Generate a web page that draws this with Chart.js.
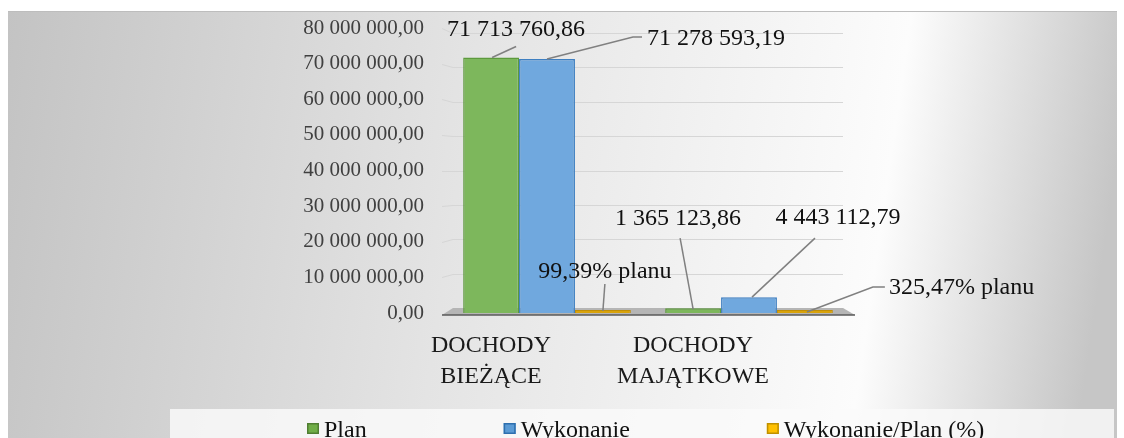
<!DOCTYPE html>
<html><head><meta charset="utf-8">
<script src="https://cdn.jsdelivr.net/npm/chart.js@4.4.1/dist/chart.umd.min.js"></script>
<style>html,body{margin:0;padding:0;background:#fff;overflow:hidden}#wrap{width:1124px;height:438px;position:relative}</style>
</head><body><div id="wrap"><canvas id="c" width="1124" height="438"></canvas></div>
<script>
const categories = [['DOCHODY', 'BIEŻĄCE'], ['DOCHODY', 'MAJĄTKOWE']];
const seriesNames = ['Plan', 'Wykonanie', 'Wykonanie/Plan (%)'];
const planValues = [71713760.86, 1365123.86];
const wykonanieValues = [71278593.19, 4443112.79];
const percentValues = [99.39, 325.47];
const yTickValues = [0, 10000000, 20000000, 30000000, 40000000, 50000000, 60000000, 70000000, 80000000];

const SERIF = '"Liberation Serif", "Times New Roman", serif';

function fmtNum(v) {
  const parts = v.toFixed(2).split('.');
  return parts[0].replace(/\B(?=(\d{3})+(?!\d))/g, ' ') + ',' + parts[1];
}
function fmtPct(v) { return v.toFixed(2).replace('.', ',') + '% planu'; }

// label callout layout (offsets relative to each bar's top centre): style only
const calloutStyle = [
  [ {pts: [[1,0],[25,-11]], tx: 25, ty: -28, align: 'center'},
    {pts: [[0,1],[-13,-70]], tx: -15, ty: -89, align: 'center'} ],
  [ {pts: [[0,0],[86,-22],[95,-22]], tx: 100, ty: -20, align: 'left'},
    {pts: [[3,0],[66,-59]], tx: 89, ty: -79, align: 'center'} ],
  [ {pts: [[0,1],[2,-26]], tx: 2, ty: -38, align: 'center'},
    {pts: [[2,2],[68,-23],[80,-23]], tx: 84, ty: -22, align: 'left'} ]
];

const legendStyle = [
  {fill: '#70ad47', stroke: '#507e32'},
  {fill: '#5b9bd5', stroke: '#2e6fae'},
  {fill: '#ffc000', stroke: '#bf9000'}
];

const bgPlugin = {
  id: 'bg',
  beforeDraw(chart) {
    const ctx = chart.ctx;
    ctx.save();
    ctx.fillStyle = '#ffffff';
    ctx.fillRect(0, 0, chart.width, chart.height);
    const g = ctx.createLinearGradient(8, 0, 1117, 160);
    g.addColorStop(0, '#c3c3c3');
    g.addColorStop(0.42, '#e4e4e4');
    g.addColorStop(0.8, '#fcfcfc');
    g.addColorStop(1, '#c6c6c6');
    ctx.fillStyle = g;
    ctx.fillRect(8, 11, 1109, 427);
    ctx.fillStyle = '#bdbdbd';
    ctx.fillRect(8, 11, 1109, 1);
    ctx.fillStyle = 'rgba(250,250,250,0.82)';
    ctx.fillRect(170, 409, 944, 29);
    ctx.restore();
  },
  beforeDatasetsDraw(chart) {
    const ctx = chart.ctx, y = chart.scales.y, a = chart.chartArea;
    ctx.save();
    ctx.strokeStyle = '#d6d6d6';
    ctx.lineWidth = 1;
    yTickValues.forEach(v => {
      if (v === 0) return;
      const yf = y.getPixelForValue(v);
      const yb = yf - 5 + 10 * v / 80000000;
      ctx.beginPath();
      ctx.moveTo(a.left - 4, Math.round(yf) + 0.5);
      ctx.lineTo(a.left + 7, Math.round(yb) + 0.5);
      ctx.lineTo(a.right - 7, Math.round(yb) + 0.5);
      ctx.stroke();
    });
    // floor
    const b = y.getPixelForValue(0);
    ctx.fillStyle = '#b5b5b5';
    ctx.beginPath();
    ctx.moveTo(a.left - 4, b + 2);
    ctx.lineTo(a.right + 5, b + 2);
    ctx.lineTo(a.right - 7, b - 5);
    ctx.lineTo(a.left + 7, b - 5);
    ctx.closePath();
    ctx.fill();
    ctx.strokeStyle = '#5a5a5a';
    ctx.lineWidth = 1.5;
    ctx.beginPath();
    ctx.moveTo(a.left - 4, b + 2);
    ctx.lineTo(a.right + 5, b + 2);
    ctx.stroke();
    ctx.restore();
  },
  afterDatasetsDraw(chart) {
    const ctx = chart.ctx;
    ctx.save();
    chart.data.datasets.forEach((ds, di) => {
      const meta = chart.getDatasetMeta(di);
      meta.data.forEach((bar, i) => {
        const st = calloutStyle[di][i];
        const bx = bar.x, by = bar.y;
        ctx.strokeStyle = '#808080';
        ctx.lineWidth = 1.5;
        ctx.beginPath();
        st.pts.forEach((p, k) => {
          if (k === 0) ctx.moveTo(bx + p[0], by + p[1]); else ctx.lineTo(bx + p[0], by + p[1]);
        });
        ctx.stroke();
        const v = ds.data[i];
        const txt = di === 2 ? fmtPct(v) : fmtNum(v);
        ctx.font = '24px ' + SERIF;
        ctx.fillStyle = '#111111';
        ctx.textAlign = st.align;
        ctx.textBaseline = 'middle';
        ctx.fillText(txt, bx + st.tx, by + st.ty);
      });
    });
    ctx.restore();
  },
  afterDraw(chart) {
    const ctx = chart.ctx;
    ctx.save();
    ctx.font = '24px ' + SERIF;
    ctx.textAlign = 'left';
    ctx.textBaseline = 'alphabetic';
    let x = 307;
    chart.data.datasets.forEach((ds, di) => {
      const ls = legendStyle[di];
      ctx.fillStyle = ls.fill;
      ctx.fillRect(x, 423, 12, 11);
      ctx.strokeStyle = ls.stroke;
      ctx.lineWidth = 1.5;
      ctx.strokeRect(x + 0.75, 423.75, 10.5, 9.5);
      ctx.fillStyle = '#111111';
      ctx.fillText(ds.label, x + 17, 437);
      x += 17 + ctx.measureText(ds.label).width + 137;
    });
    ctx.restore();
  }
};

new Chart(document.getElementById('c'), {
  type: 'bar',
  data: {
    labels: categories,
    datasets: [
      {label: seriesNames[0], data: planValues, backgroundColor: '#7db75c', borderColor: '#5d9a3d', borderWidth: 1.5,
       barPercentage: 1, categoryPercentage: 0.83},
      {label: seriesNames[1], data: wykonanieValues, backgroundColor: '#70a8de', borderColor: '#3e7fc1', borderWidth: 1.5,
       barPercentage: 1, categoryPercentage: 0.83},
      {label: seriesNames[2], data: percentValues, backgroundColor: '#d9a30c', borderColor: '#c08e08', borderWidth: 1,
       barPercentage: 1, categoryPercentage: 0.83, minBarLength: 3}
    ]
  },
  options: {
    responsive: false,
    animation: false,
    devicePixelRatio: 1,
    layout: {padding: {left: 0, right: 274, top: 28, bottom: 0}},
    plugins: {legend: {display: false}, tooltip: {enabled: false}},
    scales: {
      x: {
        grid: {display: false, drawTicks: false},
        border: {display: false},
        ticks: {font: {family: SERIF, size: 24, lineHeight: 1.29}, color: '#1a1a1a', labelOffset: -56,
                padding: 17, maxRotation: 0, minRotation: 0, autoSkip: false},
        afterFit(s) { s.height = 125; }
      },
      y: {
        min: 0, max: 80000000,
        grid: {display: false, drawTicks: false},
        border: {display: false},
        afterBuildTicks(s) { s.ticks = yTickValues.map(v => ({value: v})); },
        ticks: {padding: 22, font: {family: SERIF, size: 21}, color: '#404040', callback: v => fmtNum(v)},
        afterFit(s) { s.width = 446; s.paddingTop = 0; s.paddingBottom = 0; }
      }
    }
  },
  plugins: [bgPlugin]
});
</script>
</body></html>
